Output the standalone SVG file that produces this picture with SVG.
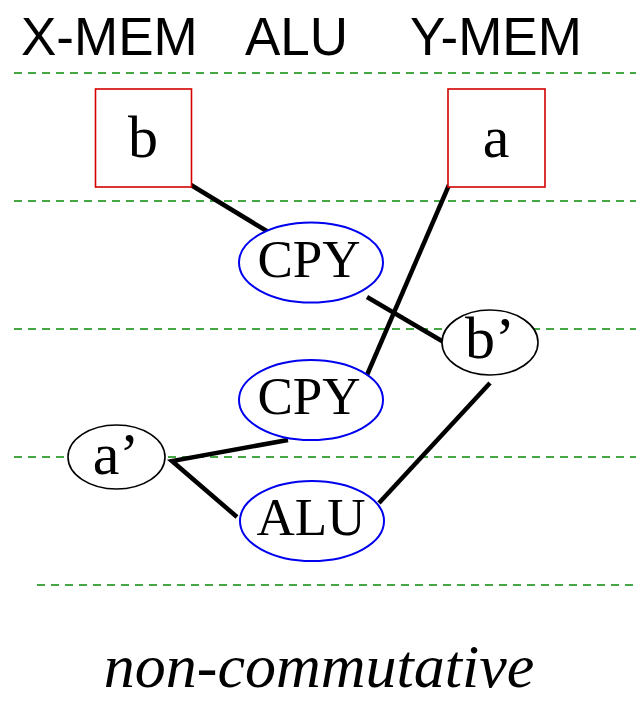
<svg xmlns="http://www.w3.org/2000/svg" width="636" height="701" viewBox="0 0 636 701">
  <style>
    .lane { stroke: #45a845; stroke-width: 2; stroke-dasharray: 8 6; fill: none; }
    .head { font-family: "Liberation Sans", Arial, sans-serif; font-size: 53px; fill: #000; }
    .lbl { font-family: "Liberation Serif", "Times New Roman", serif; font-size: 53px; fill: #000; text-anchor: middle; }
    .big { font-size: 60px; }
    .mem { fill: #fff; stroke: #d40000; stroke-width: 1.6; }
    .op { fill: #fff; stroke: #0000ee; stroke-width: 2; }
    .val { fill: #fff; stroke: #000; stroke-width: 1.6; }
    .edge { stroke: #000; stroke-width: 4.5; fill: none; }
  </style>
  <rect width="636" height="701" fill="#fff"/>

  <!-- column headings -->
  <text class="head" x="21" y="55">X-MEM</text>
  <text class="head" x="245" y="55">ALU</text>
  <text class="head" x="410" y="55">Y-MEM</text>

  <!-- cycle separators -->
  <g id="lanes">
    <line class="lane" x1="14" y1="73" x2="636" y2="73"/>
    <line class="lane" x1="14" y1="201" x2="636" y2="201"/>
    <line class="lane" x1="14" y1="329" x2="636" y2="329"/>
    <line class="lane" x1="14" y1="457" x2="636" y2="457"/>
    <line class="lane" x1="37" y1="585" x2="636" y2="585"/>
  </g>

  <!-- connectors -->
  <g id="edges">
    <line class="edge" x1="191" y1="185" x2="270" y2="233"/>
    <line class="edge" x1="449" y1="185" x2="367" y2="375"/>
    <line class="edge" x1="367" y1="297" x2="447" y2="344"/>
    <line class="edge" x1="490" y1="383" x2="379" y2="503"/>
    <polyline class="edge" points="288,440 172,461 237,517"/>
  </g>

  <g id="mem-b">
    <rect class="mem" x="95.5" y="89" width="96" height="98"/>
    <text class="lbl big" x="143" y="157">b</text>
  </g>
  <g id="mem-a">
    <rect class="mem" x="448" y="89" width="97" height="98"/>
    <text class="lbl big" x="496" y="157">a</text>
  </g>

  <g id="cpy1">
    <ellipse class="op" cx="311" cy="262.5" rx="72" ry="40"/>
    <text class="lbl" x="309" y="277">CPY</text>
  </g>
  <g id="cpy2">
    <ellipse class="op" cx="311" cy="400" rx="72" ry="40"/>
    <text class="lbl" x="309" y="414">CPY</text>
  </g>
  <g id="alu">
    <ellipse class="op" cx="312" cy="521" rx="72" ry="40"/>
    <text class="lbl" x="311" y="535">ALU</text>
  </g>

  <g id="b-prime">
    <ellipse class="val" cx="490" cy="342.5" rx="48" ry="32.5"/>
    <text class="lbl big" x="490" y="358">b’</text>
  </g>
  <g id="a-prime">
    <ellipse class="val" cx="116.5" cy="457" rx="48.5" ry="32"/>
    <text class="lbl big" x="116" y="474">a’</text>
  </g>

  <text x="319" y="687" font-family="'Liberation Serif', 'Times New Roman', serif" font-style="italic" font-size="62" text-anchor="middle">non-commutative</text>
</svg>
